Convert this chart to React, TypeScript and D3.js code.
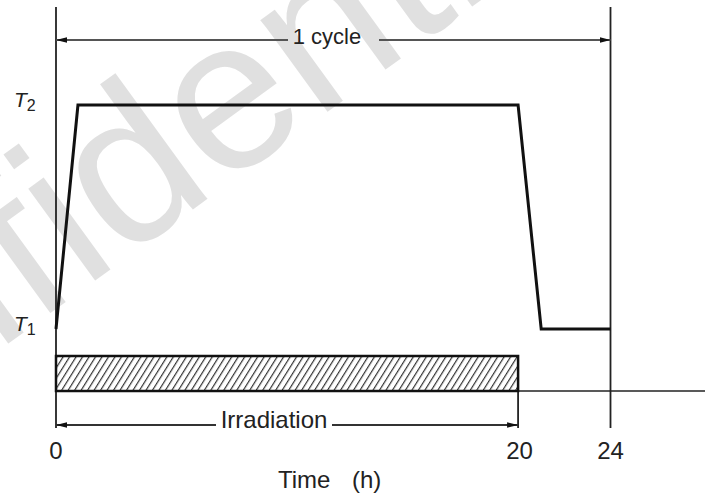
import * as d3 from 'd3';

// temperature profile over one cycle (level 1 = T1, level 2 = T2)
const profileHours = [0, 0.95, 20, 21, 24];
const profileLevels = [1, 2, 2, 1, 1];
const levelLabels = ['1', '2'];

const tickHours = [0, 20, 24];
const irradiationSpan = [0, 20];
const cycleSpan = [0, 24];

const W = 705;
const H = 494;
const FONT = "'Liberation Sans', Arial, Helvetica, sans-serif";

const x = d3.scaleLinear().domain([0, 24]).range([56, 610.5]);
const y = d3.scaleLinear().domain([1, 2]).range([329, 105]);

const barTop = 356;
const barBottom = 391;
const lineTop = 7;
const lineBottom = 428;

const App = () => {
  const pts: [number, number][] = profileHours.map((h, i) => [h, profileLevels[i]]);
  const line = d3.line<[number, number]>().x(d => x(d[0])).y(d => y(d[1]));

  const cycleY = 40;
  const irrY = 425;
  const cycleMid = 327;
  const irrMid = 274;

  return (
    <svg width={W} height={H} style={{ position: 'absolute', left: 0, top: 0, background: '#fff' }}
      fontFamily={FONT}>
      <defs>
        <pattern id="hatch" patternUnits="userSpaceOnUse" width={5.5} height={5.5}
          patternTransform="rotate(32)">
          <rect width={5.5} height={5.5} fill="#fff" />
          <line x1={0} y1={0} x2={0} y2={5.5} stroke="#333" strokeWidth={2.4} />
        </pattern>
        <marker id="arrowEnd" markerUnits="userSpaceOnUse" markerWidth={12} markerHeight={8}
          refX={11} refY={4} orient="auto">
          <path d="M0,1.2 L11,4 L0,6.8 Z" fill="#111" />
        </marker>
        <marker id="arrowStart" markerUnits="userSpaceOnUse" markerWidth={12} markerHeight={8}
          refX={1} refY={4} orient="auto">
          <path d="M12,1.2 L1,4 L12,6.8 Z" fill="#111" />
        </marker>
      </defs>

      {/* watermark */}
      <text transform="translate(-284,556) rotate(-36)" fontSize={215} fill="#e0e0e0"
        fontFamily={FONT}>Confidential</text>

      {/* frame lines */}
      <line x1={x(0)} x2={x(0)} y1={lineTop} y2={lineBottom} stroke="#222" strokeWidth={1.8} />
      <line x1={x(24)} x2={x(24)} y1={lineTop} y2={lineBottom} stroke="#222" strokeWidth={1.8} />
      <line x1={x(20)} x2={x(20)} y1={barBottom} y2={lineBottom} stroke="#222" strokeWidth={1.8} />
      <line x1={x(0)} x2={W} y1={barBottom} y2={barBottom} stroke="#222" strokeWidth={1.6} />

      {/* irradiation bar */}
      <rect x={x(irradiationSpan[0])} y={barTop} width={x(irradiationSpan[1]) - x(irradiationSpan[0])}
        height={barBottom - barTop} fill="url(#hatch)" stroke="#111" strokeWidth={2.5} />

      {/* temperature profile */}
      <path d={line(pts) ?? ''} fill="none" stroke="#111" strokeWidth={3} strokeLinejoin="miter" />

      {/* 1 cycle dimension */}
      <line x1={x(cycleSpan[0])} x2={cycleMid - 39} y1={cycleY} y2={cycleY} stroke="#555" strokeWidth={2}
        markerStart="url(#arrowStart)" />
      <line x1={cycleMid + 52} x2={x(cycleSpan[1])} y1={cycleY} y2={cycleY} stroke="#555" strokeWidth={2}
        markerEnd="url(#arrowEnd)" />
      <text x={cycleMid} y={44} fontSize={22} textAnchor="middle" fill="#222">1 cycle</text>

      {/* irradiation dimension */}
      <line x1={x(irradiationSpan[0])} x2={irrMid - 58} y1={irrY} y2={irrY} stroke="#333" strokeWidth={1.8}
        markerStart="url(#arrowStart)" />
      <line x1={irrMid + 58} x2={x(irradiationSpan[1])} y1={irrY} y2={irrY} stroke="#333" strokeWidth={1.8}
        markerEnd="url(#arrowEnd)" />
      <text x={irrMid} y={428} fontSize={24} textAnchor="middle" fill="#222">Irradiation</text>

      {/* level labels */}
      {levelLabels.map(l => (
        <text key={l} x={14} y={y(+l) + 2} fontSize={21} fill="#222">
          <tspan fontStyle="italic">T</tspan>
          <tspan fontSize={16} dy={4}>{l}</tspan>
        </text>
      ))}

      {/* time ticks */}
      {tickHours.map(h => (
        <text key={h} x={x(h) + (h === 20 ? 1.5 : 0)} y={459} fontSize={24} textAnchor="middle" fill="#222">{h}</text>
      ))}
      <text x={278} y={488} fontSize={24} fill="#222">Time</text>
      <text x={352} y={488} fontSize={24} fill="#222">(h)</text>
    </svg>
  );
};

export default App;
